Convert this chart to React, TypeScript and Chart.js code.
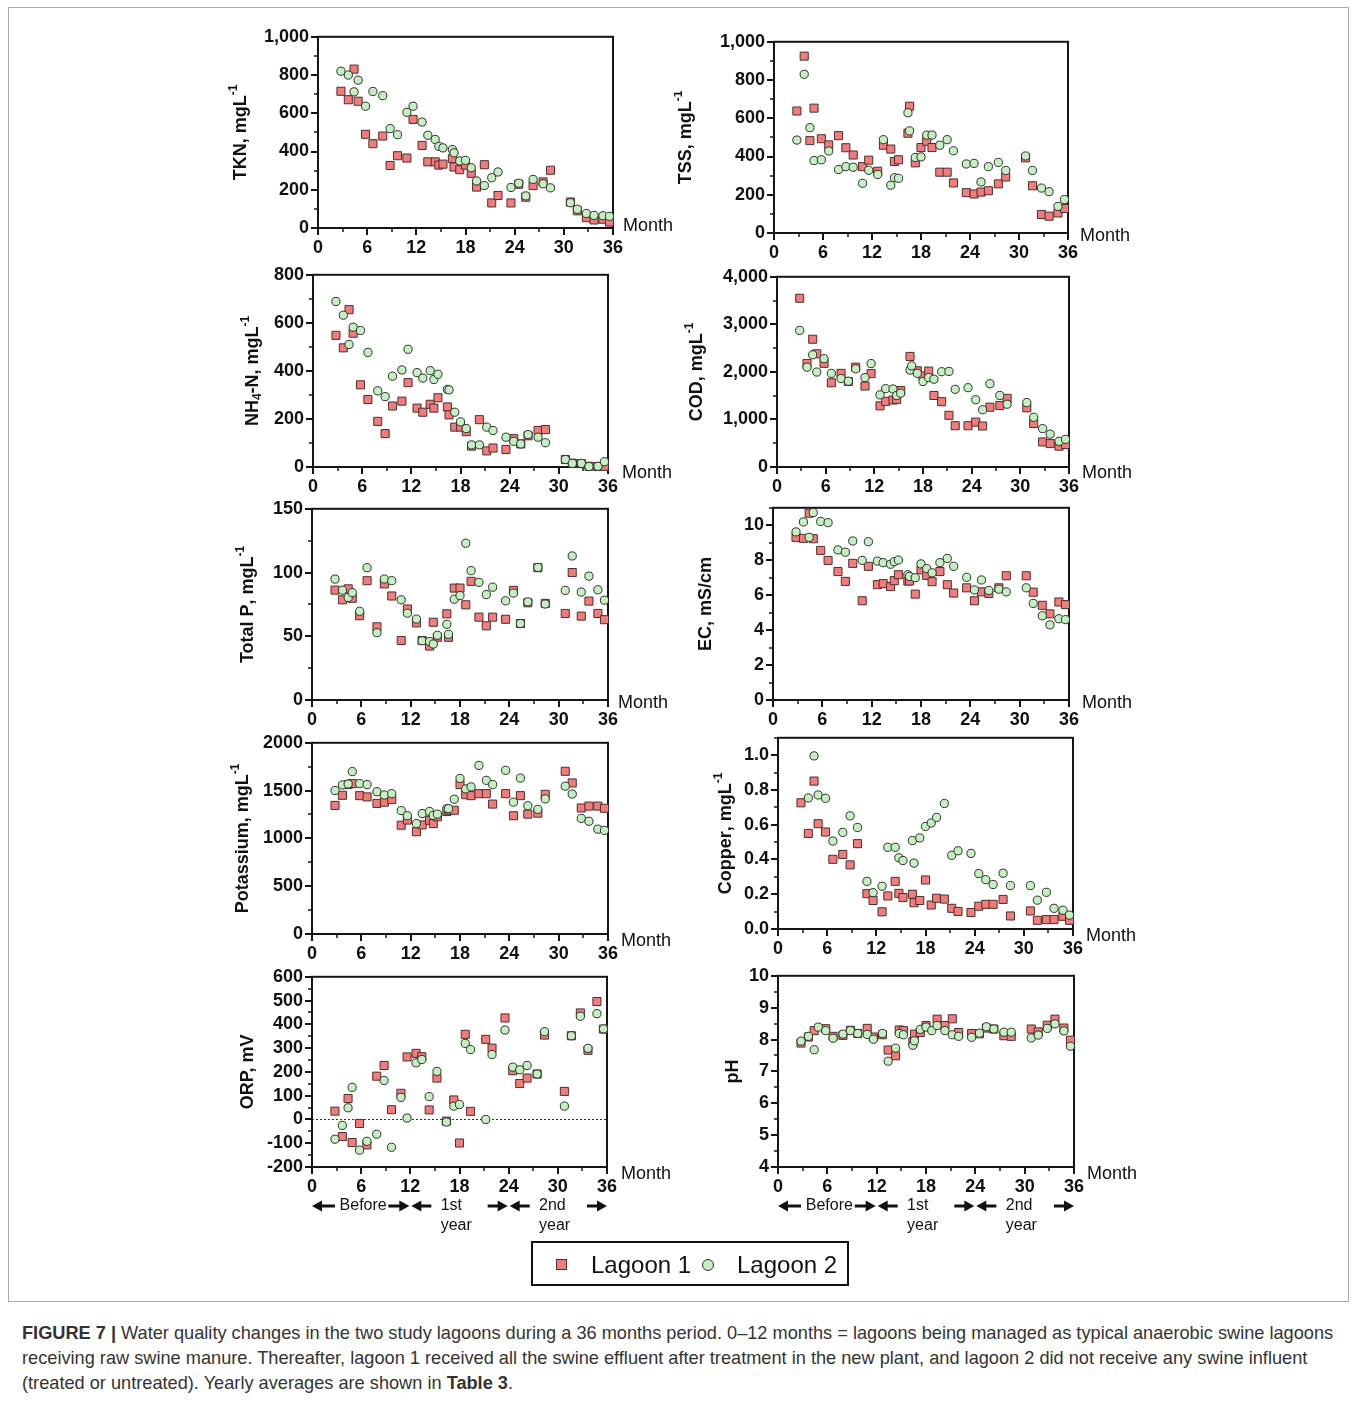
import React, { useEffect, useRef } from "react";
import { Chart, registerables } from "chart.js";
Chart.register(...registerables);

// ---------- data ----------
const MONTHS = [2.8, 3.7, 4.4, 4.9, 5.8, 6.7, 7.9, 8.8, 9.7, 10.85, 11.6, 12.7, 13.4, 14.3, 14.75, 15.25, 16.4, 16.6, 17.3, 18.0, 18.7, 19.35, 20.3, 21.2, 21.97, 23.55, 24.5, 25.35, 26.25, 27.47, 28.37, 30.8, 31.65, 32.75, 33.68, 34.77, 35.57];
const X_TICKS = [0, 6, 12, 18, 24, 30, 36];

const TKN_L1 = [715, 671, 831, 663, 490, 441, 481, 327, 378, 366, 568, 432, 346, 346, 329, 334, 363, 319, 305, 329, 286, 214, 331, 131, 170, 131, 229, 161, 222, 241, 302, 136, 90, 54, 42, 46, 31];
const TKN_L2 = [820, 800, 712, 773, 637, 714, 692, 520, 488, 605, 637, 554, 485, 463, 427, 419, 410, 393, 351, 354, 315, 246, 222, 263, 293, 212, 234, 168, 254, 231, 210, 132, 98, 76, 66, 64, 61];
const TKN_TICKS = [0, 200, 400, 600, 800, 1000];

const TSS_L1 = [638, 925, 483, 653, 493, 461, 509, 446, 408, 347, 381, 323, 459, 439, 374, 383, 522, 663, 367, 447, 480, 447, 318, 318, 262, 211, 204, 214, 221, 257, 293, 393, 247, 97, 88, 105, 128];
const TSS_L2 = [486, 830, 551, 379, 383, 429, 332, 347, 344, 260, 328, 306, 488, 250, 289, 286, 629, 534, 395, 398, 512, 512, 459, 488, 430, 361, 364, 267, 347, 369, 327, 403, 327, 235, 216, 139, 175];
const TSS_TICKS = [0, 200, 400, 600, 800, 1000];

const NH4_L1 = [548, 496, 655, 557, 342, 281, 190, 139, 254, 274, 351, 245, 228, 261, 245, 288, 250, 217, 166, 166, 147, 87, 197, 67, 79, 73, 118, 96, 130, 152, 156, 31, 16, 14, 3, 2, 3];
const NH4_L2 = [689, 632, 510, 582, 568, 477, 317, 293, 378, 404, 490, 393, 370, 401, 364, 386, 323, 321, 228, 188, 160, 92, 92, 166, 152, 124, 107, 96, 135, 124, 101, 31, 15, 15, 2, 3, 22];
const NH4_TICKS = [0, 200, 400, 600, 800];

const COD_L1 = [3549, 2175, 2687, 2380, 2181, 1771, 1969, 1798, 2099, 1703, 1963, 1286, 1381, 1409, 1422, 1607, 2325, null, 2024, 1915, 2017, 1504, 1374, 1087, 868, 868, 944, 862, 1258, 1292, 1443, 1245, 916, 527, 492, 438, 472];
const COD_L2 = [2872, 2099, 2359, 1997, 2277, 1969, 1860, 1805, 2065, 1880, 2175, 1518, 1648, 1641, 1504, 1552, 2038, 2127, 1969, 1798, 1880, 1846, 2004, 2010, 1634, 1668, 1415, 1204, 1751, 1504, 1320, 1354, 1046, 807, 691, 540, 581];
const COD_TICKS = [0, 1000, 2000, 3000, 4000];

const TP_L1 = [86.2, 78.6, 87.2, 79.8, 66.1, 93.6, 57.4, 91.1, 81.6, 46.7, 71.4, 60.5, 46.7, 42.3, 61, 49.2, 67.6, 49.2, 87.8, 87.8, 74.7, 93.1, 65, 58.2, 65, 63.3, 86, 60, 76.3, 103.8, 75.8, 67.9, 100, 65.8, 77.6, 67.9, 63];
const TP_L2 = [94.9, 86.2, 80.4, 84.2, 69.6, 103.8, 52.8, 94.9, 93.6, 78.6, 68.1, 63.5, 46.4, 45.9, 43.9, 50.8, 59.4, 51.5, 79.1, 81.9, 123, 101.5, 92.3, 82.7, 88.5, 77.8, 83.9, 60, 77, 104, 75.3, 86, 113, 84.7, 97.2, 86.5, 78.3];
const TP_TICKS = [0, 50, 100, 150];

const EC_L1 = [9.31, 9.25, 10.69, 9.23, 8.56, 7.99, 7.35, 6.79, 7.82, 5.68, 7.65, 6.6, 6.66, 6.49, 6.83, 7.17, 6.81, 6.81, 6.06, 7.45, 7.13, 6.77, 7.35, 6.6, 6.12, 6.42, 5.68, 6.19, 6.1, 6.42, 7.11, 7.11, 6.17, 5.42, 4.93, 5.61, 5.46];
const EC_L2 = [9.62, 10.19, 9.31, 10.73, 10.22, 10.15, 8.59, 8.46, 9.1, 7.99, 9.06, 7.95, 7.86, 7.77, 7.92, 8.01, 7.17, 7.07, 7.0, 7.79, 7.52, 7.28, 7.86, 8.1, 7.65, 7.02, 6.3, 6.87, 6.27, 6.34, 6.19, 6.42, 5.53, 4.82, 4.3, 4.65, 4.6];
const EC_TICKS = [0, 2, 4, 6, 8, 10];

const K_L1 = [1345, 1451, 1563, 1573, 1447, 1434, 1366, 1379, 1406, 1138, 1192, 1070, 1141, 1189, 1155, 1226, 1281, 1294, 1294, 1563, 1457, 1447, 1468, 1468, 1359, 1468, 1237, 1447, 1254, 1264, 1461, 1702, 1580, 1318, 1338, 1338, 1315];
const K_L2 = [1501, 1559, 1569, 1699, 1573, 1563, 1488, 1454, 1468, 1291, 1237, 1155, 1260, 1281, 1240, 1254, 1311, 1311, 1410, 1627, 1518, 1539, 1763, 1607, 1563, 1712, 1379, 1631, 1342, 1304, 1413, 1546, 1464, 1209, 1179, 1097, 1084];
const K_TICKS = [0, 500, 1000, 1500, 2000];

const CU_L1 = [0.726, 0.55, 0.851, 0.606, 0.558, 0.401, 0.429, 0.369, 0.491, 0.203, 0.164, 0.099, 0.19, 0.274, 0.205, 0.181, 0.2, 0.151, 0.164, 0.282, 0.138, 0.177, 0.172, 0.119, 0.101, 0.095, 0.131, 0.142, 0.142, 0.17, 0.075, 0.104, 0.05, 0.054, 0.054, 0.073, 0.05];
const CU_L2 = [null, 0.754, 0.996, 0.771, 0.752, 0.506, 0.556, 0.651, 0.584, 0.274, 0.209, 0.246, 0.47, 0.47, 0.41, 0.394, 0.509, 0.379, 0.524, 0.59, 0.61, 0.642, 0.722, 0.424, 0.45, 0.435, 0.319, 0.284, 0.256, 0.321, 0.25, 0.25, 0.166, 0.211, 0.119, 0.108, 0.08];
const CU_TICKS = [0, 0.2, 0.4, 0.6, 0.8, 1.0];

const ORP_L1 = [35, -72, 88, -97, -17, -107, 182, 227, 41, 110, 263, 278, 264, 40, null, 174, -7, null, 82, -99, 358, 34, null, 337, 300, 427, 205, 151, 174, 191, 355, 118, 352, 448, 291, 496, 380];
const ORP_L2 = [-83, -25, 49, 135, -129, -92, -62, 164, -117, 93, 6, 238, 252, 96, null, 202, -11, null, 56, 63, 320, 294, null, 0, 273, 376, 220, 209, 227, 191, 369, 56, 352, 434, 299, 445, 381];
const ORP_TICKS = [-200, -100, 0, 100, 200, 300, 400, 500, 600];

const PH_L1 = [7.89, 8.08, 8.28, null, 8.34, 8.1, 8.13, 8.29, 8.19, 8.35, 8.08, 8.15, 7.67, 7.49, 8.3, 8.28, 7.93, 8.17, 8.22, 8.44, null, 8.64, 8.44, 8.65, 8.22, 8.19, 8.18, 8.36, 8.33, 8.12, 8.1, 8.33, 8.24, 8.45, 8.64, 8.36, 7.98];
const PH_L2 = [7.95, 8.1, 7.68, 8.39, 8.28, 8.04, 8.17, 8.28, 8.19, 8.16, 8.01, 8.19, 7.32, 7.73, 8.19, 8.15, 7.82, 7.96, 8.32, 8.39, 8.28, 8.44, 8.28, 8.15, 8.1, 8.07, 8.2, 8.4, 8.33, 8.23, 8.23, 8.05, 8.14, 8.35, 8.49, 8.27, 7.79];
const PH_TICKS = [4, 5, 6, 7, 8, 9, 10];

// ---------- styles ----------
const FF = '"Liberation Sans", Arial, Helvetica, sans-serif';
const SQ_FILL = "#f27b7b";
const SQ_EDGE = "#4a3030";
const CI_FILL = "#c4f0c0";
const CI_EDGE = "#2e2e2e";
const YW = 100;
const PT = 15;
const PR = 90;

type Seg = { t: string; sup?: boolean; sub?: boolean };
interface Panel {
  key: string;
  box: [number, number, number, number];
  title: Seg[];
  titleDx: number;
  monthD: [number, number];
  yMin: number;
  yMax: number;
  yTicks: number[];
  yMinor: number;
  fmt: (v: number) => string;
  l1: (number | null)[];
  l2: (number | null)[];
  zeroLine?: boolean;
  notes?: boolean;
}

const comma = (v: number) => v.toLocaleString("en-US");
const plain = (v: number) => String(v);
const fix1 = (v: number) => v.toFixed(1);
const unit: Seg[] = [{ t: ", mgL" }, { t: "-1", sup: true }];

const PANELS: Panel[] = [
  { key: "tkn", box: [318, 32, 613, 228], title: [{ t: "TKN" }, ...unit], titleDx: 77, monthD: [10, -2], yMin: 0, yMax: 1000, yTicks: TKN_TICKS, yMinor: 100, fmt: comma, l1: TKN_L1, l2: TKN_L2 },
  { key: "tss", box: [774, 37, 1068, 233], title: [{ t: "TSS" }, ...unit], titleDx: 88, monthD: [12, 3], yMin: 0, yMax: 1000, yTicks: TSS_TICKS, yMinor: 100, fmt: comma, l1: TSS_L1, l2: TSS_L2 },
  { key: "nh4", box: [313, 270, 608, 467], title: [{ t: "NH" }, { t: "4", sub: true }, { t: "-N" }, ...unit], titleDx: 60, monthD: [14, 6], yMin: 0, yMax: 800, yTicks: NH4_TICKS, yMinor: 100, fmt: comma, l1: NH4_L1, l2: NH4_L2 },
  { key: "cod", box: [777, 272, 1069, 467], title: [{ t: "COD" }, ...unit], titleDx: 80, monthD: [13, 6], yMin: 0, yMax: 4000, yTicks: COD_TICKS, yMinor: 500, fmt: comma, l1: COD_L1, l2: COD_L2 },
  { key: "tp", box: [312, 504, 608, 700], title: [{ t: "Total P" }, ...unit], titleDx: 64, monthD: [10, 3], yMin: 0, yMax: 150, yTicks: TP_TICKS, yMinor: 25, fmt: plain, l1: TP_L1, l2: TP_L2 },
  { key: "ec", box: [773, 503, 1069, 700], title: [{ t: "EC, mS/cm" }], titleDx: 67, monthD: [13, 3], yMin: 0, yMax: 11, yTicks: EC_TICKS, yMinor: 1, fmt: plain, l1: EC_L1, l2: EC_L2 },
  { key: "k", box: [312, 738, 608, 934], title: [{ t: "Potassium" }, ...unit], titleDx: 69, monthD: [13, 7], yMin: 0, yMax: 2000, yTicks: K_TICKS, yMinor: 250, fmt: plain, l1: K_L1, l2: K_L2 },
  { key: "cu", box: [778, 733, 1073, 929], title: [{ t: "Copper" }, ...unit], titleDx: 52, monthD: [13, 7], yMin: 0, yMax: 1.1, yTicks: CU_TICKS, yMinor: 0.1, fmt: fix1, l1: CU_L1, l2: CU_L2 },
  { key: "orp", box: [312, 972, 607, 1167], title: [{ t: "ORP, mV" }], titleDx: 64, monthD: [14, 7], yMin: -200, yMax: 600, yTicks: ORP_TICKS, yMinor: 50, fmt: plain, l1: ORP_L1, l2: ORP_L2, zeroLine: true, notes: true },
  { key: "ph", box: [778, 971, 1074, 1167], title: [{ t: "pH" }], titleDx: 45, monthD: [13, 7], yMin: 4, yMax: 10, yTicks: PH_TICKS, yMinor: 0.5, fmt: plain, l1: PH_L1, l2: PH_L2, notes: true },
];

const pts = (vals: (number | null)[]) =>
  vals.map((v, i) => (v === null ? null : { x: MONTHS[i], y: v })).filter((p) => p !== null);

function drawTitle(ctx: CanvasRenderingContext2D, segs: Seg[], cx: number, cy: number) {
  const main = `bold 18px ${FF}`;
  const small = `bold 12px ${FF}`;
  ctx.save();
  ctx.translate(cx, cy);
  ctx.rotate(-Math.PI / 2);
  ctx.textBaseline = "middle";
  ctx.textAlign = "left";
  ctx.fillStyle = "#111";
  const widths = segs.map((s) => {
    ctx.font = s.sup || s.sub ? small : main;
    return ctx.measureText(s.t).width;
  });
  const total = widths.reduce((a, b) => a + b, 0);
  let x = -total / 2;
  segs.forEach((s, i) => {
    ctx.font = s.sup || s.sub ? small : main;
    const dy = s.sup ? -7 : s.sub ? 5 : 0;
    ctx.fillText(s.t, x, dy);
    x += widths[i];
  });
  ctx.restore();
}

function drawArrow(ctx: CanvasRenderingContext2D, tail: number, tip: number, y: number) {
  const d = Math.sign(tip - tail);
  ctx.beginPath();
  ctx.lineWidth = 3;
  ctx.moveTo(tail, y);
  ctx.lineTo(tip - d * 7, y);
  ctx.stroke();
  ctx.beginPath();
  ctx.moveTo(tip, y);
  ctx.lineTo(tip - d * 10, y - 5.5);
  ctx.lineTo(tip - d * 10, y + 5.5);
  ctx.closePath();
  ctx.fill();
}

function deco(p: Panel) {
  return {
    id: "deco_" + p.key,
    beforeDatasetsDraw(chart: any) {
      const { ctx, chartArea: a, scales } = chart;
      const xs = scales.x;
      const ys = scales.y;
      ctx.save();
      if (p.zeroLine) {
        const y0 = Math.round(ys.getPixelForValue(0)) + 0.5;
        ctx.setLineDash([2, 2]);
        ctx.strokeStyle = "#333";
        ctx.lineWidth = 1;
        ctx.beginPath();
        ctx.moveTo(a.left, y0);
        ctx.lineTo(a.right, y0);
        ctx.stroke();
        ctx.setLineDash([]);
      }
      ctx.strokeStyle = "#151515";
      ctx.lineWidth = 2;
      ctx.strokeRect(a.left, a.top, a.right - a.left, a.bottom - a.top);
      const n = Math.round((p.yMax - p.yMin) / p.yMinor);
      for (let i = 0; i <= n; i++) {
        const v = p.yMin + i * p.yMinor;
        const major = p.yTicks.some((t) => Math.abs(t - v) < 1e-6);
        const y = Math.round(ys.getPixelForValue(v));
        ctx.lineWidth = major ? 2 : 1.5;
        ctx.beginPath();
        ctx.moveTo(a.left, y);
        ctx.lineTo(a.left - (major ? 7 : 4), y);
        ctx.stroke();
      }
      for (let m = 0; m <= 36; m += 3) {
        const major = m % 6 === 0;
        const x = Math.round(xs.getPixelForValue(m));
        ctx.lineWidth = major ? 2 : 1.5;
        ctx.beginPath();
        ctx.moveTo(x, a.bottom);
        ctx.lineTo(x, a.bottom + (major ? 7 : 4));
        ctx.stroke();
      }
      ctx.restore();
    },
    afterDraw(chart: any) {
      const { ctx, chartArea: a, scales } = chart;
      const xs = scales.x;
      drawTitle(ctx, p.title, a.left - p.titleDx, (a.top + a.bottom) / 2);
      ctx.save();
      ctx.fillStyle = "#111";
      ctx.font = `18px ${FF}`;
      ctx.textAlign = "left";
      ctx.textBaseline = "middle";
      ctx.fillText("Month", a.right + p.monthD[0], a.bottom + p.monthD[1]);
      if (p.notes) {
        const X = (m: number) => xs.getPixelForValue(m);
        const y1 = a.bottom + 39;
        const y2 = a.bottom + 59;
        ctx.strokeStyle = "#111";
        ctx.fillStyle = "#111";
        drawArrow(ctx, X(0) + 23, X(0), y1);
        drawArrow(ctx, X(12) - 22, X(12) - 1, y1);
        drawArrow(ctx, X(12) + 21, X(12) + 1, y1);
        drawArrow(ctx, X(24) - 21, X(24) - 1, y1);
        drawArrow(ctx, X(24) + 21, X(24) + 1, y1);
        drawArrow(ctx, X(36) - 20, X(36), y1);
        ctx.font = `16px ${FF}`;
        ctx.textAlign = "center";
        ctx.fillText("Before", X(6) + 2, y1);
        ctx.textAlign = "left";
        ctx.fillText("1st", X(15.7), y1);
        ctx.fillText("year", X(15.7), y2);
        ctx.fillText("2nd", X(27.7), y1);
        ctx.fillText("year", X(27.7), y2);
      }
      ctx.restore();
    },
  };
}

function PanelChart({ p }: { p: Panel }) {
  const ref = useRef<HTMLCanvasElement>(null);
  const [L, T, R, B] = p.box;
  const XH = p.notes ? 90 : 40;
  const cw = R - L + YW + PR;
  const ch = B - T + PT + XH;
  useEffect(() => {
    const tickFont = { family: FF, size: 18, weight: "bold" as const };
    const chart = new Chart(ref.current as HTMLCanvasElement, {
      type: "scatter",
      data: {
        datasets: [
          { label: "Lagoon 1", data: pts(p.l1) as any, pointStyle: "rect", pointRadius: 5.7, backgroundColor: SQ_FILL, borderColor: SQ_EDGE, borderWidth: 1, order: 2, clip: false as any },
          { label: "Lagoon 2", data: pts(p.l2) as any, pointStyle: "circle", pointRadius: 4.1, backgroundColor: CI_FILL, borderColor: CI_EDGE, borderWidth: 1, order: 1, clip: false as any },
        ],
      },
      options: {
        responsive: false,
        animation: false,
        events: [],
        layout: { padding: { left: 0, top: PT, right: PR, bottom: 0 } },
        plugins: { legend: { display: false }, tooltip: { enabled: false } },
        scales: {
          x: {
            type: "linear",
            min: 0,
            max: 36,
            grid: { display: false, drawTicks: false },
            border: { display: false },
            afterBuildTicks: (s: any) => {
              s.ticks = X_TICKS.map((v) => ({ value: v }));
            },
            afterFit: (s: any) => {
              s.height = XH;
            },
            ticks: { font: tickFont, color: "#111", padding: 9, maxRotation: 0, autoSkip: false },
          },
          y: {
            type: "linear",
            min: p.yMin,
            max: p.yMax,
            grid: { display: false, drawTicks: false },
            border: { display: false },
            afterBuildTicks: (s: any) => {
              s.ticks = p.yTicks.map((v) => ({ value: v }));
            },
            afterFit: (s: any) => {
              s.width = YW;
            },
            ticks: { font: tickFont, color: "#111", padding: 9, autoSkip: false, callback: (v: any) => p.fmt(Number(v)) },
          },
        },
      } as any,
      plugins: [deco(p)],
    });
    return () => chart.destroy();
  }, []);
  return (
    <canvas
      ref={ref}
      width={cw}
      height={ch}
      style={{ position: "absolute", left: L - YW, top: T - PT, width: cw, height: ch }}
    />
  );
}

export default function App() {
  return (
    <div style={{ position: "absolute", left: 0, top: 0, width: 1357, height: 1405, background: "#fff", fontFamily: FF }}>
      <div style={{ position: "absolute", left: 8, top: 7, width: 1341, height: 1295, border: "1px solid #aaa", boxSizing: "border-box" }} />
      {PANELS.map((p) => (
        <PanelChart key={p.key} p={p} />
      ))}
      <div style={{ position: "absolute", left: 531, top: 1241, width: 318, height: 45, border: "2px solid #111", boxSizing: "border-box" }} />
      <div style={{ position: "absolute", left: 556, top: 1259, width: 11, height: 11, background: SQ_FILL, border: `1px solid ${SQ_EDGE}`, boxSizing: "border-box" }} />
      <div style={{ position: "absolute", left: 591, top: 1250, fontSize: 24, lineHeight: "30px", color: "#111", whiteSpace: "nowrap" }}>Lagoon 1</div>
      <div style={{ position: "absolute", left: 702, top: 1259, width: 12, height: 12, borderRadius: "50%", background: CI_FILL, border: `1px solid ${CI_EDGE}`, boxSizing: "border-box" }} />
      <div style={{ position: "absolute", left: 737, top: 1250, fontSize: 24, lineHeight: "30px", color: "#111", whiteSpace: "nowrap" }}>Lagoon 2</div>
      <div style={{ position: "absolute", left: 22, top: 1321, fontSize: 18.2, lineHeight: "25px", color: "#333", whiteSpace: "nowrap" }}>
        <b>FIGURE 7 |</b> Water quality changes in the two study lagoons during a 36 months period. 0–12 months = lagoons being managed as typical anaerobic swine lagoons
        <br />
        receiving raw swine manure. Thereafter, lagoon 1 received all the swine effluent after treatment in the new plant, and lagoon 2 did not receive any swine influent
        <br />
        (treated or untreated). Yearly averages are shown in <b>Table 3</b>.
      </div>
    </div>
  );
}
